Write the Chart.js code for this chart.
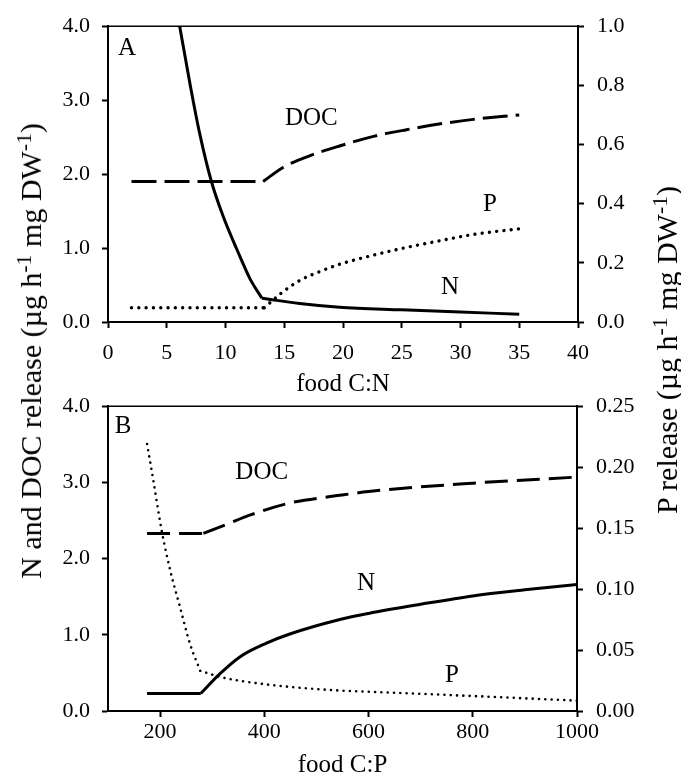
<!DOCTYPE html>
<html>
<head>
<meta charset="utf-8">
<script src="https://cdn.jsdelivr.net/npm/chart.js@4.4.1/dist/chart.umd.min.js"></script>
<style>
  html, body { margin: 0; padding: 0; background: #fff; overflow: hidden; }
  #wrap { position: relative; width: 681px; height: 780px; }
  canvas { position: absolute; left: 0; }
  #cA { top: 0; }
  #cB { top: 380px; }
  .ytitle {
    position: absolute; white-space: nowrap; color: #000;
    font-family: 'Liberation Serif', serif; font-size: 30px; line-height: 1;
    transform: translate(-50%, -50%) rotate(-90deg);
  }
  .ytitle sup { font-size: 0.72em; line-height: 0; vertical-align: 0.45em; }
</style>
</head>
<body>
<div id="wrap">
  <canvas id="cA" width="681" height="400" style="width:681px;height:400px"></canvas>
  <canvas id="cB" width="681" height="400" style="width:681px;height:400px"></canvas>
  <div class="ytitle" style="left:31px; top:351px">N and DOC release (µg h<sup>-1</sup> mg DW<sup>-1</sup>)</div>
  <div class="ytitle" style="left:667px; top:350px">P release (µg h<sup>-1</sup> mg DW<sup>-1</sup>)</div>
</div>
<script>
// panel A: release against food C:N
const cnTicks = [0, 5, 10, 15, 20, 25, 30, 35, 40];
const cnLeftTicks = [0, 1, 2, 3, 4];
const cnRightTicks = [0, 0.2, 0.4, 0.6, 0.8, 1.0];
const cnN_x   = [6.1, 7, 7.8, 8.8, 9.8, 11, 12.1, 13.1, 16.3, 19.7, 25, 30, 35];
const cnN_y   = [4.0, 3.2, 2.55, 1.9, 1.43, 0.97, 0.58, 0.32, 0.25, 0.2, 0.165, 0.135, 0.105];
const cnDOC_x = [2, 13.2, 14.9, 17.2, 19.7, 22.6, 25.4, 28.3, 31.1, 35];
const cnDOC_y = [1.9, 1.9, 2.09, 2.25, 2.38, 2.51, 2.6, 2.68, 2.74, 2.8];
const cnP_x   = [2, 13.3, 14.6, 16.3, 18, 19.7, 22.6, 25.4, 28.3, 31.1, 35];
const cnP_y   = [0.048, 0.048, 0.093, 0.14, 0.17, 0.195, 0.226, 0.252, 0.275, 0.296, 0.315];
const cnBreak = { N: 7, DOC: 1, P: 1 }; // index of the corner point in each curve

// panel B: release against food C:P
const cpTicks = [200, 400, 600, 800, 1000];
const cpLeftTicks = [0, 1, 2, 3, 4];
const cpRightTicks = [0, 0.05, 0.10, 0.15, 0.20, 0.25];
const cpN_x   = [175, 278, 315, 353, 404, 449, 545, 600, 700, 800, 900, 1000];
const cpN_y   = [0.23, 0.23, 0.49, 0.71, 0.89, 1.01, 1.2, 1.28, 1.4, 1.51, 1.59, 1.66];
const cpDOC_x = [175, 283, 328, 372, 449, 545, 600, 800, 1000];
const cpDOC_y = [2.33, 2.33, 2.45, 2.57, 2.73, 2.83, 2.88, 2.99, 3.07];
const cpP_x   = [175, 187, 203, 219, 238, 257, 277, 315, 353, 443, 545, 600, 800, 1000];
const cpP_y   = [0.219, 0.189, 0.148, 0.116, 0.0855, 0.0555, 0.033, 0.028, 0.0248, 0.02, 0.0168, 0.0158, 0.0123, 0.0085];
const cpBreak = { N: 1, DOC: 1, P: 6 };

const FONT = 'Liberation Serif';
Chart.defaults.font.family = FONT;
Chart.defaults.color = '#000';

function pts(xs, ys, from, to) {
  const out = [];
  for (let i = from; i <= to; i++) out.push({ x: xs[i], y: ys[i] });
  return out;
}

// split each curve at its corner so the corner stays sharp
function curve(xs, ys, brk, axis, style) {
  return [
    Object.assign({ data: pts(xs, ys, 0, brk), yAxisID: axis }, style),
    Object.assign({ data: pts(xs, ys, brk, xs.length - 1), yAxisID: axis }, style)
  ];
}

const base = { borderColor: '#000', pointRadius: 0, fill: false, cubicInterpolationMode: 'monotone' };
const solid = Object.assign({}, base, { borderWidth: 3 });
const dashA = Object.assign({}, base, { borderWidth: 3, borderDash: [25, 8] });
const dashB = Object.assign({}, base, { borderWidth: 3, borderDash: [23, 9] });
const dotA = Object.assign({}, base, { borderWidth: 3.4, borderDash: [0.01, 7.3], borderCapStyle: 'round' });
const dotB = Object.assign({}, base, { borderWidth: 2.6, borderDash: [0.01, 6.3], borderCapStyle: 'round' });

const framePlugin = {
  id: 'frame',
  afterDatasetsDraw(chart, args, opts) {
    const { ctx, chartArea: a, scales } = chart;
    ctx.save();
    ctx.strokeStyle = '#000';
    ctx.lineWidth = 1.5;
    ctx.beginPath();
    ctx.moveTo(a.left, a.top);
    ctx.lineTo(a.right, a.top);
    ctx.stroke();
    ctx.fillStyle = '#000';
    ctx.font = '25px "' + FONT + '"';
    ctx.textBaseline = 'middle';
    opts.labels.forEach(l => {
      ctx.textAlign = l.align || 'center';
      ctx.fillText(l.text, scales.x.getPixelForValue(l.x), scales.y.getPixelForValue(l.y));
    });
    ctx.restore();
  }
};

function setTicks(vals) {
  return s => { s.ticks = vals.map(v => ({ value: v })); };
}

function axisCommon() {
  return {
    grid: { drawOnChartArea: false, drawTicks: true, tickLength: 6, tickWidth: 2, color: '#000' },
    border: { display: true, width: 2, color: '#000' }
  };
}

function makePanel(id, o) {
  return new Chart(document.getElementById(id), {
    type: 'line',
    data: { datasets: o.datasets },
    options: {
      responsive: false,
      animation: false,
      layout: { padding: { top: o.top, left: 0, right: 0, bottom: 0 } },
      plugins: { legend: { display: false }, tooltip: { enabled: false }, frame: { labels: o.labels } },
      scales: {
        x: Object.assign(axisCommon(), {
          type: 'linear', min: o.xMin, max: o.xMax,
          afterBuildTicks: setTicks(o.xTicks),
          afterFit: s => { s.height = o.xHeight; },
          ticks: { font: { size: 22 }, padding: o.xPad, autoSkip: false, maxRotation: 0, callback: v => String(v) },
          title: { display: true, text: o.xTitle, font: { size: 25 }, padding: { top: 0, bottom: o.titlePad } }
        }),
        y: Object.assign(axisCommon(), {
          position: 'left', min: 0, max: 4,
          afterBuildTicks: setTicks(o.leftTicks),
          afterFit: s => { s.width = 108; },
          ticks: { font: { size: 22 }, padding: 12, callback: v => v.toFixed(1) }
        }),
        y2: Object.assign(axisCommon(), {
          position: 'right', min: 0, max: o.rightMax,
          afterBuildTicks: setTicks(o.rightTicks),
          afterFit: s => { s.width = o.rightWidth; },
          ticks: { font: { size: 22 }, padding: 13, callback: v => v.toFixed(o.rightDigits) }
        })
      }
    },
    plugins: [framePlugin]
  });
}

makePanel('cA', {
  datasets: [].concat(
    curve(cnN_x, cnN_y, cnBreak.N, 'y', solid),
    curve(cnDOC_x, cnDOC_y, cnBreak.DOC, 'y', dashA),
    curve(cnP_x, cnP_y, cnBreak.P, 'y2', dotA)
  ),
  top: 22, xHeight: 78, xPad: 12, titlePad: 1,
  xMin: 0, xMax: 40, xTicks: cnTicks, xTitle: 'food C:N',
  leftTicks: cnLeftTicks, rightTicks: cnRightTicks, rightMax: 1, rightDigits: 1, rightWidth: 103,
  labels: [
    { text: 'A', x: 0.85, y: 3.7, align: 'left' },
    { text: 'DOC', x: 17.3, y: 2.75 },
    { text: 'P', x: 32.5, y: 1.59 },
    { text: 'N', x: 29.1, y: 0.47 }
  ]
});

makePanel('cB', {
  datasets: [].concat(
    curve(cpN_x, cpN_y, cpBreak.N, 'y', solid),
    curve(cpDOC_x, cpDOC_y, cpBreak.DOC, 'y', dashB),
    curve(cpP_x, cpP_y, cpBreak.P, 'y2', dotB)
  ),
  top: 26, xHeight: 69, xPad: 2, titlePad: 0,
  xMin: 100, xMax: 1000, xTicks: cpTicks, xTitle: 'food C:P',
  leftTicks: cpLeftTicks, rightTicks: cpRightTicks, rightMax: 0.25, rightDigits: 2, rightWidth: 104,
  labels: [
    { text: 'B', x: 113, y: 3.74, align: 'left' },
    { text: 'DOC', x: 395, y: 3.13 },
    { text: 'N', x: 595, y: 1.68 },
    { text: 'P', x: 760, y: 0.47 }
  ]
});
</script>
</body>
</html>
